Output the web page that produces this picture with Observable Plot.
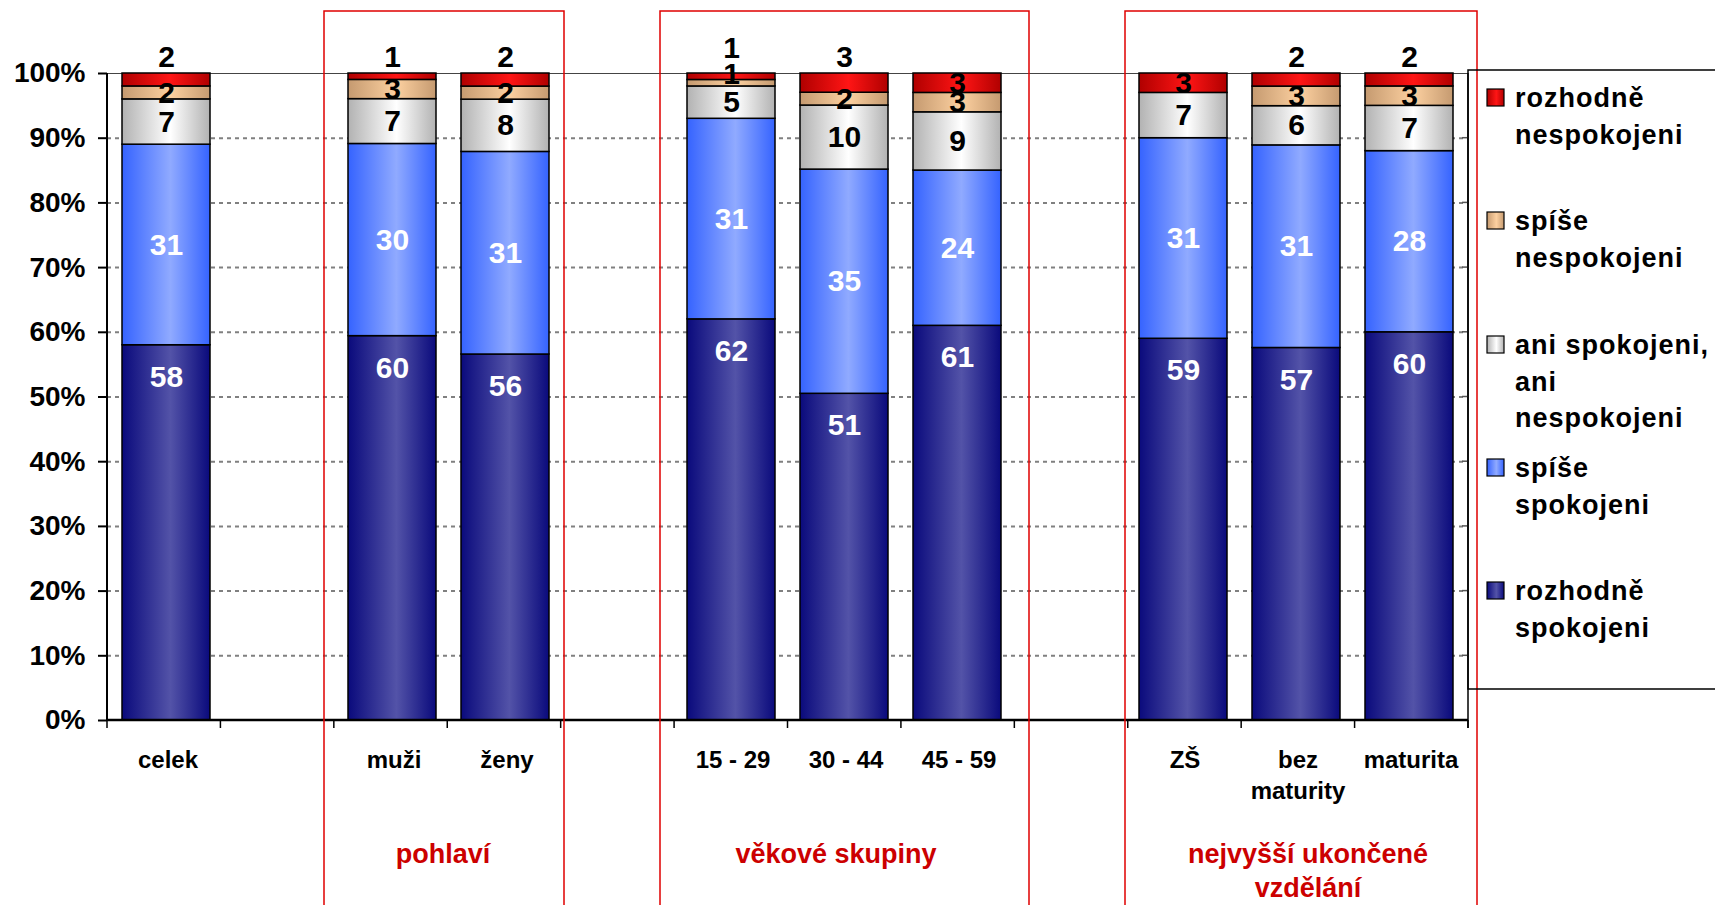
<!DOCTYPE html>
<html><head><meta charset="utf-8">
<script src="https://cdn.jsdelivr.net/npm/d3@7"></script>
<script src="https://cdn.jsdelivr.net/npm/@observablehq/plot@0.6"></script>
<style>body{margin:0;background:#fff;} svg{display:block;}</style>
</head><body><div id="chart"></div>
<script>
// ---- data ----
const slots = ["celek","_a","muži","ženy","_b","15 - 29","30 - 44","45 - 59","_c","ZŠ","bez maturity","maturita"];
const tickLabels = ["celek","","muži","ženy","","15 - 29","30 - 44","45 - 59","","ZŠ","bez\nmaturity","maturita"];
const barCategories = ["celek","muži","ženy","15 - 29","30 - 44","45 - 59","ZŠ","bez maturity","maturita"];
const seriesNames = ["rozhodně spokojeni","spíše spokojeni","ani spokojeni, ani nespokojeni","spíše nespokojeni","rozhodně nespokojeni"];
const rozhodneSpokojeni   = [58,60,56,62,51,61,59,57,60];
const spiseSpokojeni      = [31,30,31,31,35,24,31,31,28];
const aniAni              = [7,7,8,5,10,9,7,6,7];
const spiseNespokojeni    = [2,3,2,1,2,3,0,3,3];
const rozhodneNespokojeni = [2,1,2,1,3,3,3,2,2];
const yTicks = [0,0.1,0.2,0.3,0.4,0.5,0.6,0.7,0.8,0.9,1];
const legendLines = [["rozhodně","nespokojeni"],["spíše","nespokojeni"],["ani spokojeni,","ani","nespokojeni"],["spíše","spokojeni"],["rozhodně","spokojeni"]];
const groupTitles = [["pohlaví"],["věkové skupiny"],["nejvyšší ukončené","vzdělání"]];
// categories whose "rozhodně nespokojeni" label sits above the bar
const redAbove = ["celek","muži","ženy","30 - 44","bez maturity","maturita"];

const seriesValues = [rozhodneSpokojeni, spiseSpokojeni, aniAni, spiseNespokojeni, rozhodneNespokojeni];
const rows = [];
barCategories.forEach((c, i) => seriesNames.forEach((s, j) => rows.push({cat: c, series: s, value: seriesValues[j][i]})));

// ---- styles ----
const FONT = "'Liberation Sans', Arial, Helvetica, sans-serif";
const gradColors = [["#0a0a7c","#5353a8"],["#3563ff","#90aaff"],["#b2b2b2","#ffffff"],["#c59a70","#fcd0a0"],["#b00000","#ff1515"]];
const W = 1715, H = 905, ML = 107, MR = 247, MT = 73, MB = 185;
const step = (W - ML - MR) / slots.length;

const stackOpts = {x: "cat", y: "value", z: "series", order: seriesNames, offset: "normalize"};
const numStyle = {fontSize: 30, fontWeight: "bold", fontFamily: FONT};
const lbl = (f) => (d) => f(d) ? String(d.value) : "";

const marks = [
  Plot.gridY(yTicks.filter(t => t > 0 && t < 1), {stroke: "#808080", strokeOpacity: 1, strokeWidth: 2, strokeDasharray: "4,4"}),
  Plot.ruleY([1], {stroke: "#444", strokeWidth: 1}),
  Plot.barY(rows, {...stackOpts, fill: "series", stroke: "black", strokeWidth: 1.5}),
  Plot.text(rows, Plot.stackY2({...stackOpts, text: lbl(d => d.series === seriesNames[0]), fill: "white", dy: 32, ...numStyle})),
  Plot.text(rows, Plot.stackY({...stackOpts, text: lbl(d => d.series === seriesNames[1]), fill: "white", ...numStyle})),
  Plot.text(rows, Plot.stackY({...stackOpts, text: lbl(d => d.series === seriesNames[2]), fill: "black", ...numStyle})),
  Plot.text(rows, Plot.stackY({...stackOpts, text: lbl(d => d.series === seriesNames[3] && d.value > 0 && d.cat !== "15 - 29"), fill: "black", ...numStyle})),
  Plot.text(rows, Plot.stackY({...stackOpts, text: lbl(d => d.series === seriesNames[3] && d.cat === "15 - 29"), fill: "black", dy: -9, ...numStyle})),
  Plot.text(rows, Plot.stackY({...stackOpts, text: lbl(d => d.series === seriesNames[4] && !redAbove.includes(d.cat) && d.cat !== "15 - 29"), fill: "black", ...numStyle})),
  Plot.text(rows, Plot.stackY2({...stackOpts, text: lbl(d => d.series === seriesNames[4] && redAbove.includes(d.cat)), fill: "black", dy: -16, ...numStyle})),
  Plot.text(rows, Plot.stackY2({...stackOpts, text: lbl(d => d.series === seriesNames[4] && d.cat === "15 - 29"), fill: "black", dy: -25, ...numStyle})),
  Plot.axisY({ticks: yTicks, label: null, tickFormat: d => Math.round(d * 100) + "%", tickSize: 9, tickPadding: 13, fontSize: 28, fontWeight: "bold", fontFamily: FONT, color: "black", strokeWidth: 2}),
  Plot.text(slots.map((s, i) => ({slot: s, label: tickLabels[i]})), {x: "slot", text: "label", frameAnchor: "bottom", lineAnchor: "top", dy: 25, dx: 1.5, fontSize: 24, fontWeight: "bold", fontFamily: FONT, lineHeight: 1.3, fill: "black", ariaLabel: "xlabels"})
];

const plot = Plot.plot({
  width: W, height: H, marginLeft: ML, marginRight: MR, marginTop: MT, marginBottom: MB,
  style: {fontFamily: FONT, background: "white", overflow: "visible"},
  x: {type: "band", domain: slots, paddingInner: 0.224, paddingOuter: 0.112, align: 0.5, axis: null},
  y: {domain: [0, 1], axis: null, label: null},
  color: {type: "ordinal", domain: seriesNames, range: seriesNames.map((d, i) => `url(#grad${i})`)},
  marks
});
document.getElementById("chart").appendChild(plot);

const svg = d3.select(plot);
const defs = svg.insert("defs", ":first-child");
gradColors.forEach(([dark, light], i) => {
  const g = defs.append("linearGradient").attr("id", `grad${i}`).attr("x1", 0).attr("x2", 1).attr("y1", 0).attr("y2", 0);
  g.append("stop").attr("offset", 0).attr("stop-color", dark);
  g.append("stop").attr("offset", 0.55).attr("stop-color", light);
  g.append("stop").attr("offset", 1).attr("stop-color", dark);
});
svg.selectAll('g[aria-label="xlabels"] text').style("letter-spacing", "3px");

const yS = plot.scale("y");
const y = v => yS.apply(v);
const x0 = ML, x1 = W - MR, yb = y(0), yt = y(1);
const deco = svg.append("g");
deco.append("line").attr("x1", x0).attr("x2", x0).attr("y1", yt).attr("y2", yb).attr("stroke", "black").attr("stroke-width", 2);
deco.append("line").attr("x1", x1).attr("x2", x1).attr("y1", yt).attr("y2", yb + 8).attr("stroke", "black").attr("stroke-width", 1.5);
deco.append("line").attr("x1", x0).attr("x2", x1).attr("y1", yb).attr("y2", yb).attr("stroke", "black").attr("stroke-width", 2.5);
d3.range(slots.length + 1).forEach(k => {
  deco.append("line").attr("x1", x0 + k * step).attr("x2", x0 + k * step).attr("y1", yb).attr("y2", yb + 8).attr("stroke", "black").attr("stroke-width", 1.5);
});
yTicks.filter(t => t > 0 && t < 1).forEach(t => {
  deco.append("line").attr("x1", x1 - 6).attr("x2", x1).attr("y1", y(t)).attr("y2", y(t)).attr("stroke", "#555").attr("stroke-width", 1.5);
});

const boxes = [[324, 564, 443], [660, 1029, 836], [1125, 1477, 1308]];
boxes.forEach(([l, r, c], i) => {
  deco.append("path").attr("d", `M${l},${H + 2}V11H${r}V${H + 2}`).attr("fill", "none").attr("stroke", "#e00000").attr("stroke-width", 1.5);
  groupTitles[i].forEach((t, k) => {
    deco.append("text").attr("x", c).attr("y", 854 + k * 34).attr("dy", "0.35em").attr("text-anchor", "middle")
      .attr("font-family", FONT).attr("font-weight", "bold").attr("font-size", 27).attr("fill", "#cc0000").text(t);
  });
});

const lg = svg.append("g");
lg.append("path").attr("d", `M${W + 2},70H1468V689H${W + 2}`).attr("fill", "none").attr("stroke", "black").attr("stroke-width", 1.5);
const legendTop = [98, 221, 345, 468, 591];
const legendOrder = [4, 3, 2, 1, 0];
legendOrder.forEach((si, k) => {
  const ty = legendTop[k];
  lg.append("rect").attr("x", 1487).attr("y", ty - 9).attr("width", 17).attr("height", 17)
    .attr("fill", `url(#grad${si})`).attr("stroke", "black").attr("stroke-width", 1.2);
  legendLines[k].forEach((t, j) => {
    lg.append("text").attr("x", 1515).attr("y", ty + j * 36.5).attr("dy", "0.35em").attr("text-anchor", "start")
      .attr("font-family", FONT).attr("font-weight", "bold").attr("font-size", 27).attr("letter-spacing", "1px").attr("fill", "black").text(t);
  });
});
</script>
</body></html>
